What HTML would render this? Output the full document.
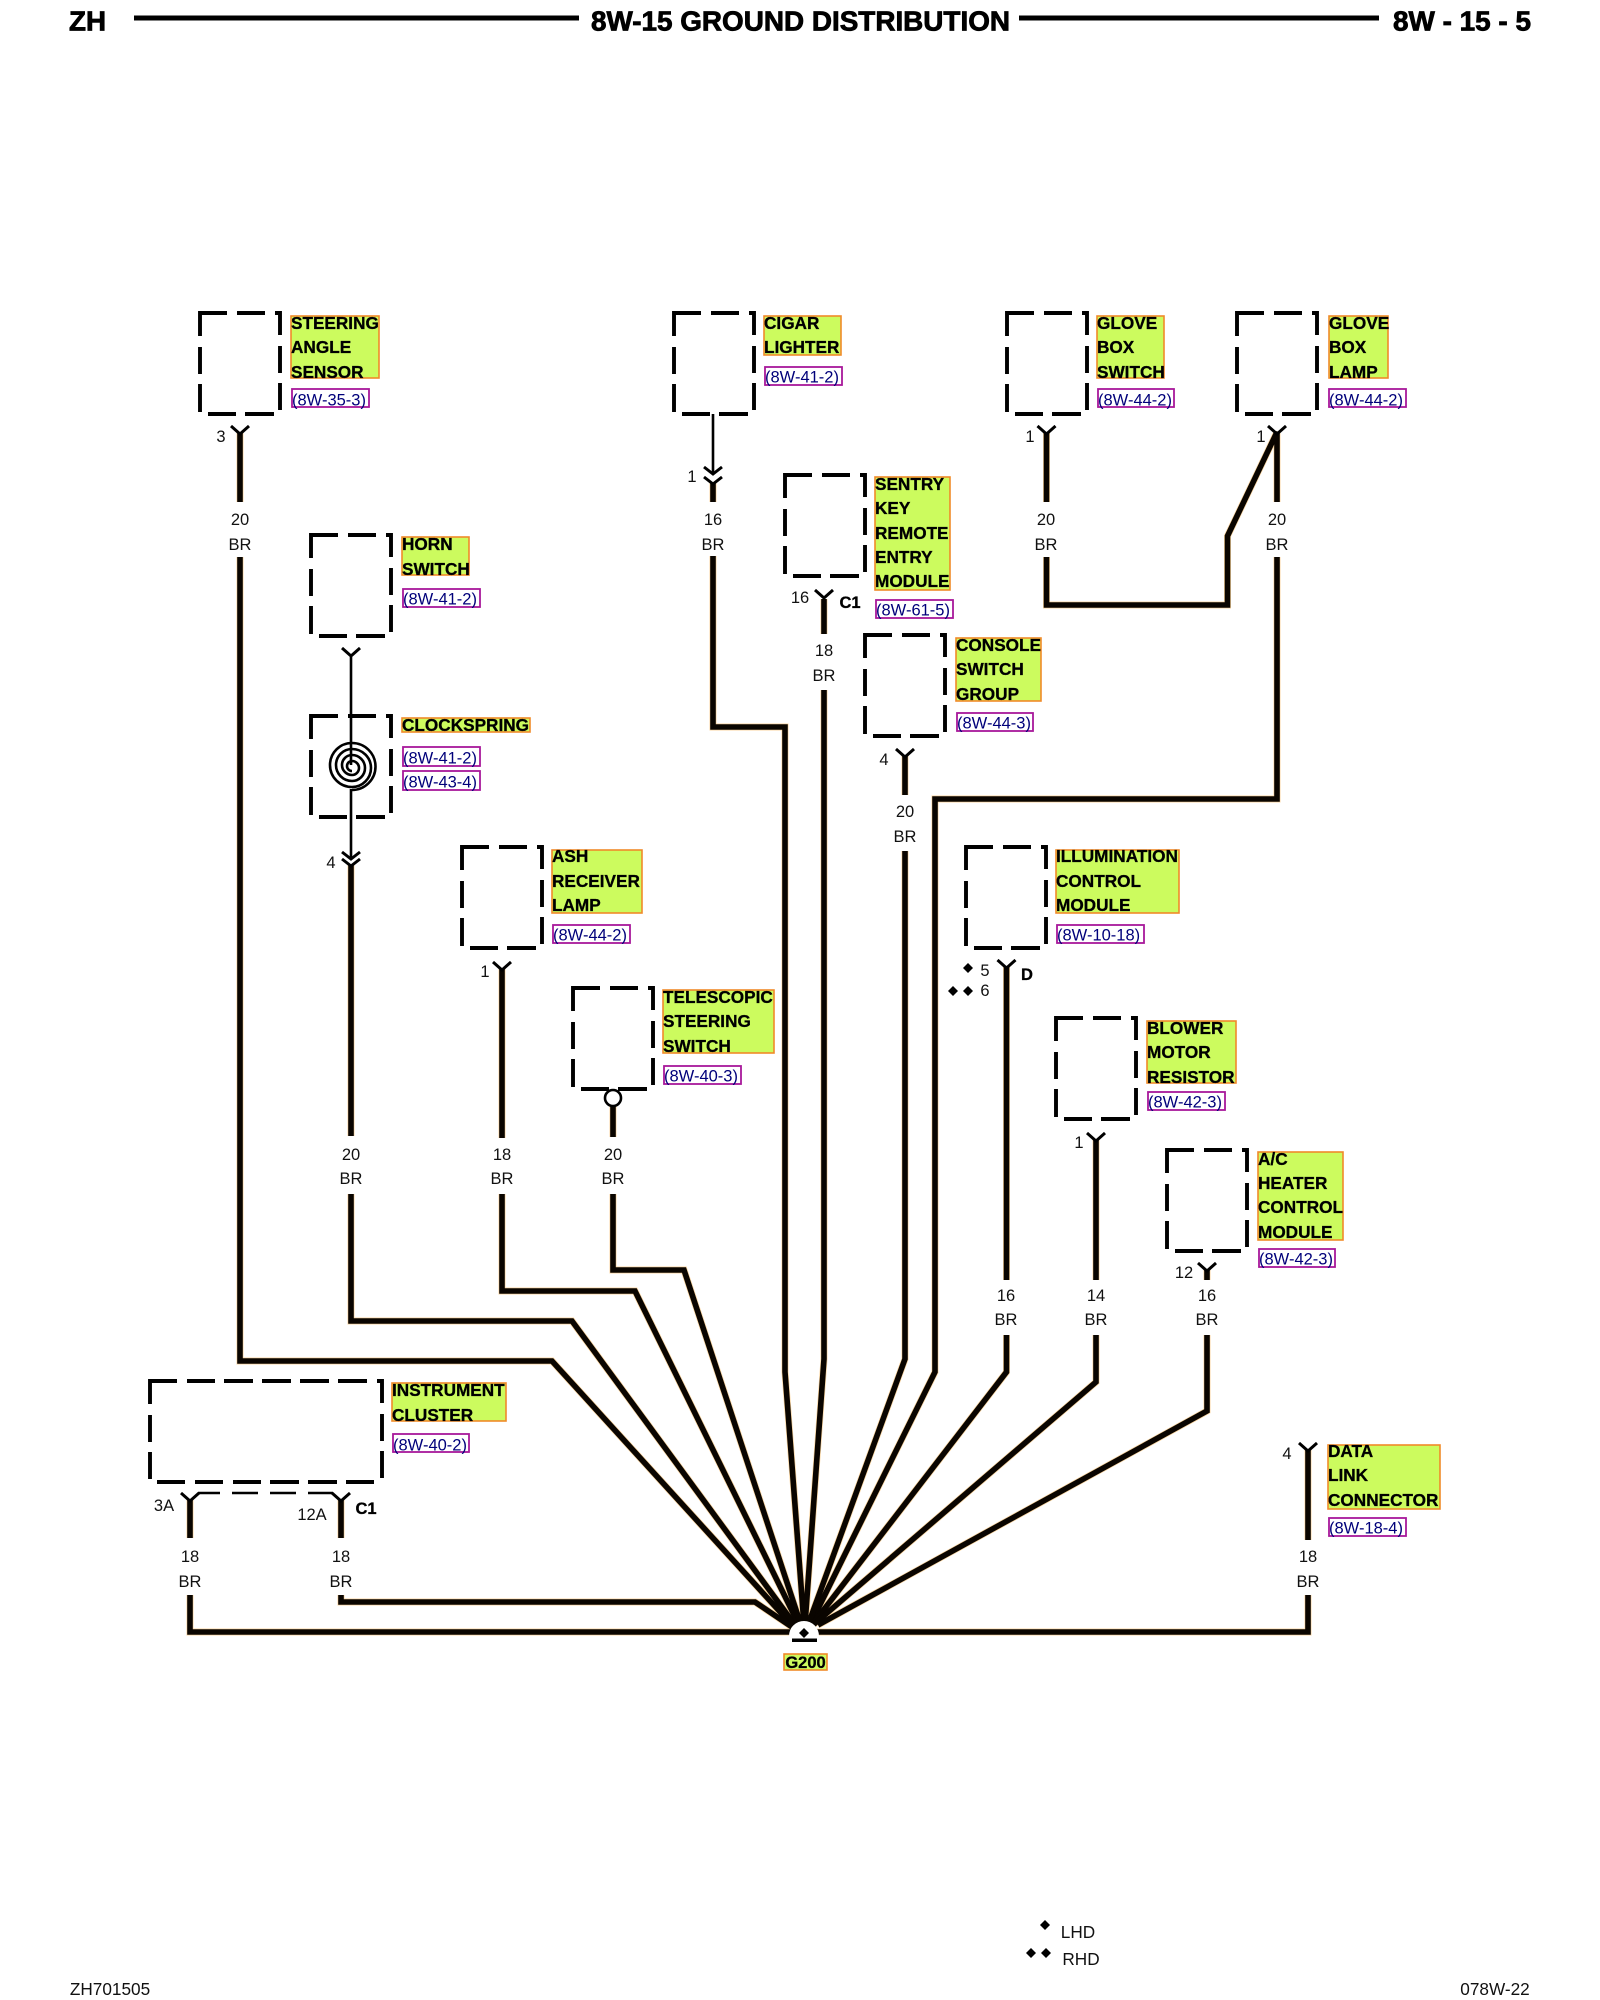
<!DOCTYPE html>
<html><head><meta charset="utf-8"><title>8W-15 Ground Distribution</title>
<style>
html,body{margin:0;padding:0;background:#fff}
svg{display:block}
text{font-family:"Liberation Sans",sans-serif}
.n{font-size:16.5px;fill:#111;text-anchor:middle}
.f{font-size:17.2px;fill:#111;text-anchor:middle}
.b{font-size:16.5px;font-weight:bold;fill:#000;stroke:#000;stroke-width:.3;text-anchor:middle}
.l{font-size:17.2px;font-weight:bold;fill:#000;stroke:#000;stroke-width:.3}
.r{font-size:16.5px;fill:#00007a}
.lb{fill:#ccfb5e;stroke:#f08a2a;stroke-width:1.6}
.rb{fill:#fff;stroke:#a8189a;stroke-width:1.8}
.h{font-size:28px;font-weight:bold;fill:#000;stroke:#000;stroke-width:.8}
.box{fill:none;stroke:#000;stroke-width:3.9}
.thin{fill:none;stroke:#000;stroke-width:2.6}
.yy{fill:none;stroke:#000;stroke-width:3}
</style></head><body>
<svg width="1600" height="2000" viewBox="0 0 1600 2000" xmlns="http://www.w3.org/2000/svg">
<defs>
<path id="bx" class="box" d="M0 23V0H27M37 0H65M75 0H80V22M80 33V60M80 70V97M0 34V61M0 71V99M8 101H36M45 101H74"/>
<path id="y" class="yy" d="M-9 0L0 8L9 0"/>
<path id="ch" class="yy" d="M-9 0L0 7L9 0M-9 10L0 17L9 10"/>
<path id="ch2" class="yy" d="M-9 0L0 7L9 0M-9 7L0 14L9 7"/>
<path id="d" d="M0 -5L5 0L0 5L-5 0Z" fill="#000"/>
<g id="wires" fill="none" stroke-linejoin="miter">
<path d="M240 433V502M240 557V1361H552L792 1625"/>
<path d="M713 483V502M713 556V727H785V1372L804 1625"/>
<path d="M824 599V634M824 690V1359L805 1625"/>
<path d="M1046.500 433V502M1046.500 557V605H1227.500V536L1277 432V502M1277 557V799H935V1372L810 1625"/>
<path d="M905 756V795M905 851V1359L808 1625"/>
<path d="M351 865V1136M351 1194V1321H572L795 1625"/>
<path d="M502 969V1138M502 1194V1291H635L799 1625"/>
<path d="M613 1106V1137M613 1194V1270H684L801 1625"/>
<path d="M1006.500 967V1280M1006.500 1335V1372L812 1625"/>
<path d="M1096 1140V1280M1096 1335V1382L813 1625"/>
<path d="M1207 1270V1280M1207 1335V1411L818 1625"/>
<path d="M190 1500V1538M190 1595V1632H1308V1595M1308 1540V1450"/>
<path d="M341 1500V1538M341 1595V1602H755L792 1627"/>
</g>
</defs>
<rect width="1600" height="2000" fill="#fff"/>

<!-- header -->
<text class="h" x="69" y="30.500" textLength="37" lengthAdjust="spacingAndGlyphs">ZH</text>
<rect x="134" y="15.500" width="445" height="5" fill="#000"/>
<text class="h" x="591" y="30.500" textLength="419" lengthAdjust="spacingAndGlyphs">8W-15 GROUND DISTRIBUTION</text>
<rect x="1019" y="15.500" width="360" height="5" fill="#000"/>
<text class="h" x="1393" y="30.500" textLength="138" lengthAdjust="spacingAndGlyphs">8W - 15 - 5</text>

<!-- wires -->
<use href="#wires" stroke="#fbd6a0" stroke-width="7"/>
<use href="#wires" stroke="#0a0500" stroke-width="5.600"/>

<!-- thin wires -->
<path class="thin" d="M713 414V473M351 657V765M351 789V858"/>

<!-- component boxes -->
<use href="#bx" x="200" y="313"/>
<use href="#bx" x="674" y="313"/>
<use href="#bx" x="1007" y="313"/>
<use href="#bx" x="1237" y="313"/>
<use href="#bx" x="785" y="475"/>
<use href="#bx" x="311" y="535"/>
<use href="#bx" x="311" y="716"/>
<use href="#bx" x="865" y="635"/>
<use href="#bx" x="462" y="847"/>
<use href="#bx" x="966" y="847"/>
<use href="#bx" x="573" y="988"/>
<use href="#bx" x="1056" y="1018"/>
<use href="#bx" x="1167" y="1150"/>
<path class="box" d="M150 1404V1381H177M187 1381H215M224 1381H253M262 1381H291M300 1381H329M338 1381H367M377 1381H382V1403M382 1414V1441M382 1451V1478M150 1415V1442M150 1452V1479M157 1482H185M195 1482H223M233 1482H261M270 1482H299M308 1482H337M346 1482H374"/>
<path class="thin" d="M198 1493H220M232 1493H258M270 1493H296M308 1493H333"/>

<!-- connector symbols -->
<use href="#y" x="240" y="426"/>
<use href="#y" x="824" y="590"/>
<use href="#y" x="1046.500" y="426"/>
<use href="#y" x="1277" y="426"/>
<use href="#y" x="905" y="749"/>
<use href="#y" x="351" y="648"/>
<use href="#y" x="502" y="962"/>
<use href="#y" x="1006.500" y="960"/>
<use href="#y" x="1096" y="1133"/>
<use href="#y" x="1207" y="1263"/>
<use href="#y" x="190" y="1493"/>
<use href="#y" x="341" y="1493"/>
<use href="#y" x="1308" y="1443"/>
<use href="#ch" x="713" y="467"/>
<use href="#ch2" x="351" y="852"/>
<circle cx="613" cy="1098" r="8" fill="#fff" stroke="#000" stroke-width="2.600"/>

<!-- clockspring -->
<path class="thin" d="M352 790A23.500 23.500 0 0 0 352 743A22 22 0 0 0 352 787A19 19 0 0 0 352 749A16 16 0 0 0 352 781A13 13 0 0 0 352 755A10 10 0 0 0 352 775A7 7 0 0 0 352 761A5 5 0 0 0 352 771"/>

<!-- ground -->
<path d="M789 1640V1636A15 15 0 0 1 819 1636V1640Z" fill="#fff"/>
<use href="#d" x="804" y="1633"/>
<rect x="792" y="1638.500" width="25" height="3.500" fill="#000"/>
<rect x="784" y="1654" width="43" height="16" class="lb"/>
<text class="b" x="805.500" y="1668">G200</text>

<!-- gauge / colour labels -->
<g>
<text class="n" x="240" y="525">20</text><text class="n" x="240" y="550">BR</text>
<text class="n" x="713" y="525">16</text><text class="n" x="713" y="550">BR</text>
<text class="n" x="824" y="656">18</text><text class="n" x="824" y="681">BR</text>
<text class="n" x="1046" y="525">20</text><text class="n" x="1046" y="550">BR</text>
<text class="n" x="1277" y="525">20</text><text class="n" x="1277" y="550">BR</text>
<text class="n" x="905" y="817">20</text><text class="n" x="905" y="842">BR</text>
<text class="n" x="351" y="1160">20</text><text class="n" x="351" y="1184">BR</text>
<text class="n" x="502" y="1160">18</text><text class="n" x="502" y="1184">BR</text>
<text class="n" x="613" y="1160">20</text><text class="n" x="613" y="1184">BR</text>
<text class="n" x="1006" y="1301">16</text><text class="n" x="1006" y="1325">BR</text>
<text class="n" x="1096" y="1301">14</text><text class="n" x="1096" y="1325">BR</text>
<text class="n" x="1207" y="1301">16</text><text class="n" x="1207" y="1325">BR</text>
<text class="n" x="190" y="1562">18</text><text class="n" x="190" y="1587">BR</text>
<text class="n" x="341" y="1562">18</text><text class="n" x="341" y="1587">BR</text>
<text class="n" x="1308" y="1562">18</text><text class="n" x="1308" y="1587">BR</text>
</g>

<!-- pin labels -->
<text class="n" x="221" y="442">3</text>
<text class="n" x="692" y="482">1</text>
<text class="n" x="800" y="603">16</text>
<text class="b" x="850" y="608">C1</text>
<text class="n" x="1030" y="442">1</text>
<text class="n" x="1261" y="442">1</text>
<text class="n" x="884" y="765">4</text>
<text class="n" x="331" y="868">4</text>
<text class="n" x="485" y="977">1</text>
<text class="n" x="985" y="976">5</text>
<text class="n" x="985" y="996">6</text>
<text class="b" x="1027" y="980">D</text>
<use href="#d" x="968" y="968"/><use href="#d" x="953" y="991"/><use href="#d" x="968" y="991"/>
<text class="n" x="1079" y="1148">1</text>
<text class="n" x="1184" y="1278">12</text>
<text class="n" x="164" y="1511">3A</text>
<text class="n" x="312" y="1520">12A</text>
<text class="b" x="366" y="1514">C1</text>
<text class="n" x="1287" y="1459">4</text>

<!-- name labels -->
<rect class="lb" x="291" y="316" width="88" height="62"/>
<text class="l" x="291" y="329">STEERING</text><text class="l" x="291" y="353">ANGLE</text><text class="l" x="291" y="378">SENSOR</text>
<rect class="rb" x="292" y="389" width="77" height="18"/><text class="r" x="292" y="405.500">(8W-35-3)</text>

<rect class="lb" x="764" y="316" width="77" height="39"/>
<text class="l" x="764" y="329">CIGAR</text><text class="l" x="764" y="353">LIGHTER</text>
<rect class="rb" x="765" y="367" width="77" height="18"/><text class="r" x="765" y="382.500">(8W-41-2)</text>

<rect class="lb" x="1097" y="316" width="67" height="62"/>
<text class="l" x="1097" y="329">GLOVE</text><text class="l" x="1097" y="353">BOX</text><text class="l" x="1097" y="378">SWITCH</text>
<rect class="rb" x="1098" y="389" width="76" height="18"/><text class="r" x="1098" y="405.500">(8W-44-2)</text>

<rect class="lb" x="1329" y="316" width="59" height="62"/>
<text class="l" x="1329" y="329">GLOVE</text><text class="l" x="1329" y="353">BOX</text><text class="l" x="1329" y="378">LAMP</text>
<rect class="rb" x="1329" y="389" width="77" height="18"/><text class="r" x="1329" y="405.500">(8W-44-2)</text>

<rect class="lb" x="875" y="477" width="75" height="113"/>
<text class="l" x="875" y="490">SENTRY</text><text class="l" x="875" y="514">KEY</text><text class="l" x="875" y="539">REMOTE</text><text class="l" x="875" y="563">ENTRY</text><text class="l" x="875" y="587">MODULE</text>
<rect class="rb" x="876" y="600" width="77" height="18"/><text class="r" x="876" y="615.500">(8W-61-5)</text>

<rect class="lb" x="402" y="537" width="67" height="38"/>
<text class="l" x="402" y="550">HORN</text><text class="l" x="402" y="575">SWITCH</text>
<rect class="rb" x="403" y="589" width="77" height="18"/><text class="r" x="403" y="604.500">(8W-41-2)</text>

<rect class="lb" x="402" y="718" width="128" height="14"/>
<text class="l" x="402" y="731">CLOCKSPRING</text>
<rect class="rb" x="403" y="747" width="77" height="19"/><text class="r" x="403" y="763.500">(8W-41-2)</text>
<rect class="rb" x="403" y="771" width="77" height="19"/><text class="r" x="403" y="787.500">(8W-43-4)</text>

<rect class="lb" x="956" y="638" width="85" height="63"/>
<text class="l" x="956" y="651">CONSOLE</text><text class="l" x="956" y="675">SWITCH</text><text class="l" x="956" y="700">GROUP</text>
<rect class="rb" x="957" y="713" width="76" height="18"/><text class="r" x="957" y="728.500">(8W-44-3)</text>

<rect class="lb" x="552" y="850" width="90" height="63"/>
<text class="l" x="552" y="862">ASH</text><text class="l" x="552" y="887">RECEIVER</text><text class="l" x="552" y="911">LAMP</text>
<rect class="rb" x="553" y="925" width="77" height="18"/><text class="r" x="553" y="940.500">(8W-44-2)</text>

<rect class="lb" x="1056" y="850" width="123" height="63"/>
<text class="l" x="1056" y="862">ILLUMINATION</text><text class="l" x="1056" y="887">CONTROL</text><text class="l" x="1056" y="911">MODULE</text>
<rect class="rb" x="1057" y="925" width="87" height="18"/><text class="r" x="1057" y="940.500">(8W-10-18)</text>

<rect class="lb" x="663" y="990" width="111" height="63"/>
<text class="l" x="663" y="1003">TELESCOPIC</text><text class="l" x="663" y="1027">STEERING</text><text class="l" x="663" y="1052">SWITCH</text>
<rect class="rb" x="664" y="1066" width="77" height="18"/><text class="r" x="664" y="1081.500">(8W-40-3)</text>

<rect class="lb" x="1147" y="1021" width="89" height="62"/>
<text class="l" x="1147" y="1034">BLOWER</text><text class="l" x="1147" y="1058">MOTOR</text><text class="l" x="1147" y="1083">RESISTOR</text>
<rect class="rb" x="1148" y="1092" width="77" height="18"/><text class="r" x="1148" y="1107.500">(8W-42-3)</text>

<rect class="lb" x="1258" y="1152" width="85" height="88"/>
<text class="l" x="1258" y="1165">A/C</text><text class="l" x="1258" y="1189">HEATER</text><text class="l" x="1258" y="1213">CONTROL</text><text class="l" x="1258" y="1238">MODULE</text>
<rect class="rb" x="1259" y="1249" width="76" height="18"/><text class="r" x="1259" y="1264.500">(8W-42-3)</text>

<rect class="lb" x="392" y="1383" width="114" height="38"/>
<text class="l" x="392" y="1396">INSTRUMENT</text><text class="l" x="392" y="1421">CLUSTER</text>
<rect class="rb" x="393" y="1434" width="76" height="18"/><text class="r" x="393" y="1450.500">(8W-40-2)</text>

<rect class="lb" x="1328" y="1445" width="112" height="64"/>
<text class="l" x="1328" y="1457">DATA</text><text class="l" x="1328" y="1481">LINK</text><text class="l" x="1328" y="1506">CONNECTOR</text>
<rect class="rb" x="1329" y="1518" width="77" height="18"/><text class="r" x="1329" y="1533.500">(8W-18-4)</text>

<!-- legend / footer -->
<use href="#d" x="1045" y="1925"/>
<text class="f" x="1078" y="1938">LHD</text>
<use href="#d" x="1031" y="1953"/><use href="#d" x="1046" y="1953"/>
<text class="f" x="1081" y="1965">RHD</text>
<text class="f" x="110" y="1995">ZH701505</text>
<text class="f" x="1495" y="1995">078W-22</text>
</svg>
</body></html>
